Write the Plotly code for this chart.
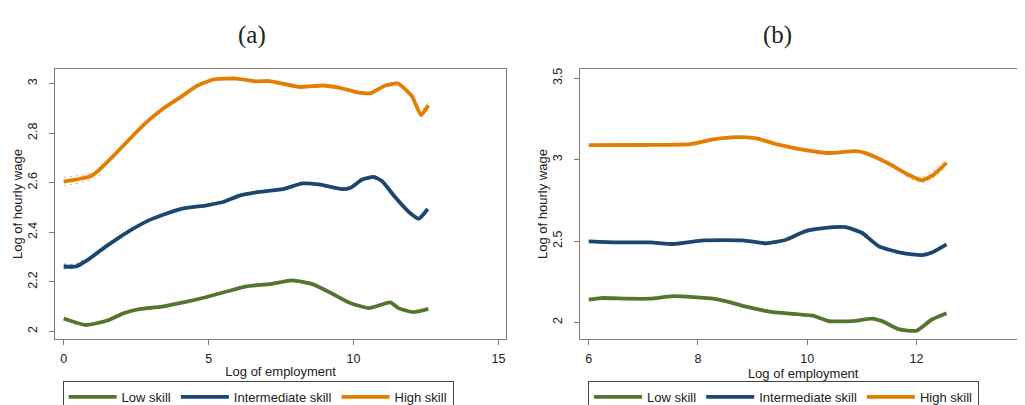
import plotly.graph_objects as go

W, H = 1025, 405

# ---------------- data: panel (a) ----------------
a_low_x = [0, 0.76, 1.51, 2.08, 2.65, 3.33, 4.25, 4.93, 5.62, 6.3, 7.1, 7.9, 8.58, 9.16, 9.84, 10.53, 11.27, 11.55, 12.07, 12.58]
a_low_y = [2.052, 2.026, 2.044, 2.074, 2.091, 2.099, 2.12, 2.139, 2.161, 2.182, 2.191, 2.206, 2.191, 2.159, 2.117, 2.094, 2.117, 2.094, 2.078, 2.091]

a_mid_x = [0, 0.42, 0.82, 1.51, 2.19, 2.99, 3.56, 4.13, 4.93, 5.5, 6.07, 6.64, 7.56, 8.24, 8.81, 9.61, 9.9, 10.3, 10.7, 10.98, 11.44, 11.9, 12.25, 12.56]
a_mid_y = [2.262, 2.262, 2.288, 2.347, 2.40, 2.451, 2.476, 2.496, 2.509, 2.522, 2.548, 2.561, 2.574, 2.597, 2.593, 2.574, 2.58, 2.613, 2.623, 2.607, 2.541, 2.483, 2.455, 2.494]

a_high_x = [0, 0.93, 1.16, 1.73, 2.82, 3.45, 4.02, 4.59, 5.16, 5.96, 6.64, 7.1, 8.13, 8.93, 9.5, 10.18, 10.58, 11.1, 11.53, 12.01, 12.33, 12.58]
a_high_y = [2.604, 2.626, 2.645, 2.71, 2.84, 2.90, 2.944, 2.99, 3.016, 3.02, 3.009, 3.01, 2.986, 2.992, 2.983, 2.963, 2.961, 2.992, 3.0, 2.95, 2.873, 2.912]

# confidence bands (visible only where wider than the line)
a_high_ci_x = [0, 0.5, 1.0, 1.3, None, 12.0, 12.2, 12.33, 12.45, 12.6]
a_high_lo = [2.588, 2.598, 2.615, 2.635, None, 2.942, 2.89, 2.862, 2.878, 2.9]
a_high_hi = [2.622, 2.628, 2.638, 2.655, None, 2.958, 2.905, 2.885, 2.905, 2.925]
a_mid_ci_x = [0, 0.4, 0.8]
a_mid_lo = [2.252, 2.255, 2.28]
a_mid_hi = [2.272, 2.27, 2.296]

# ---------------- data: panel (b) ----------------
b_low_x = [6, 6.22, 6.7, 7.13, 7.55, 8.28, 8.52, 8.88, 9.37, 10.1, 10.22, 10.4, 10.82, 11.19, 11.37, 11.67, 12.0, 12.28, 12.55]
b_low_y = [2.14, 2.15, 2.146, 2.146, 2.162, 2.146, 2.13, 2.097, 2.063, 2.042, 2.028, 2.008, 2.008, 2.024, 2.008, 1.959, 1.949, 2.018, 2.057]

b_mid_x = [6, 6.52, 7.13, 7.55, 8.1, 8.82, 9.25, 9.61, 9.97, 10.34, 10.7, 11.0, 11.31, 11.73, 12.1, 12.28, 12.55]
b_mid_y = [2.498, 2.492, 2.492, 2.482, 2.504, 2.504, 2.486, 2.508, 2.561, 2.581, 2.585, 2.551, 2.468, 2.427, 2.413, 2.429, 2.48]

b_high_x = [6, 7.0, 7.85, 8.28, 8.7, 9.07, 9.49, 9.97, 10.4, 10.88, 11.07, 11.49, 11.85, 12.1, 12.31, 12.55]
b_high_y = [3.089, 3.09, 3.095, 3.124, 3.138, 3.13, 3.091, 3.059, 3.041, 3.052, 3.04, 2.976, 2.907, 2.874, 2.907, 2.98]

b_high_ci_x = [11.8, 12.0, 12.1, 12.3, 12.55]
b_high_lo = [2.9, 2.866, 2.856, 2.886, 2.955]
b_high_hi = [2.925, 2.893, 2.89, 2.928, 3.005]

# ---------------- ticks / labels ----------------
a_xticks = [0, 5, 10, 15]
a_yticks = [2, 2.2, 2.4, 2.6, 2.8, 3]
a_yticktext = ["2", "2.2", "2.4", "2.6", "2.8", "3"]
b_xticks = [6, 8, 10, 12, 14]
b_yticks = [2, 2.5, 3, 3.5]
b_yticktext = ["2", "2.5", "3", "3.5"]

series_names = ["Low skill", "Intermediate skill", "High skill"]
colors = ["#55752f", "#1a476f", "#e37e00"]
ci_colors = ["rgba(85,117,47,0.5)", "rgba(26,71,111,0.5)", "rgba(227,126,0,0.55)"]
panel_titles = ["(a)", "(b)"]
x_title = "Log of employment"
y_title = "Log of hourly wage"

FONT = "Arial, Liberation Sans, sans-serif"
LW = 3.8

fig = go.Figure()

def add_ci(x, lo, hi, color, xa, ya):
    for arr in (lo, hi):
        fig.add_trace(go.Scatter(x=x, y=arr, mode="lines", xaxis=xa, yaxis=ya,
                                 line=dict(color=color, width=1, dash="dot"),
                                 showlegend=False, hoverinfo="skip", connectgaps=False))

add_ci(a_high_ci_x, a_high_lo, a_high_hi, ci_colors[2], "x", "y")
add_ci(a_mid_ci_x, a_mid_lo, a_mid_hi, ci_colors[1], "x", "y")
add_ci(b_high_ci_x, b_high_lo, b_high_hi, ci_colors[2], "x2", "y2")

for (xs, ys), name, col in zip([(a_low_x, a_low_y), (a_mid_x, a_mid_y), (a_high_x, a_high_y)], series_names, colors):
    fig.add_trace(go.Scatter(x=xs, y=ys, mode="lines", name=name, xaxis="x", yaxis="y",
                             line=dict(color=col, width=LW, shape="spline", smoothing=0.5),
                             legend="legend"))
for (xs, ys), name, col in zip([(b_low_x, b_low_y), (b_mid_x, b_mid_y), (b_high_x, b_high_y)], series_names, colors):
    fig.add_trace(go.Scatter(x=xs, y=ys, mode="lines", name=name, xaxis="x2", yaxis="y2",
                             line=dict(color=col, width=LW, shape="spline", smoothing=0.5),
                             legend="legend2"))

FRAME = "#7a7a7a"
axis_common = dict(showline=True, mirror=True, linecolor=FRAME, linewidth=1,
                   ticks="outside", ticklen=5, tickcolor=FRAME, tickwidth=1,
                   showgrid=False, zeroline=False,
                   tickfont=dict(family=FONT, size=12.5, color="#222"))

y0 = (H - 341.7) / H
y1 = (H - 62.3) / H

legend_common = dict(orientation="h", xanchor="left", y=(H - 385.7) / H, yanchor="top",
                     bordercolor="#444", borderwidth=1, bgcolor="white", itemwidth=48,
                     font=dict(family=FONT, size=13, color="#222"), traceorder="normal")

fig.update_layout(
    width=W, height=H,
    margin=dict(l=0, r=0, t=0, b=0),
    paper_bgcolor="white", plot_bgcolor="white",
    font=dict(family=FONT, size=13, color="#222"),
    xaxis=dict(domain=[47.3 / W, 501.7 / W], range=[-0.3, 15.27], tickvals=a_xticks,
               ticklabelstandoff=3,
               title=dict(text=x_title, font=dict(family=FONT, size=13), standoff=2),
               anchor="y", **axis_common),
    yaxis=dict(domain=[y0, y1], range=[1.970, 3.058], tickvals=a_yticks, ticktext=a_yticktext,
               tickangle=-90, ticklabelstandoff=7,
               title=dict(text=y_title, font=dict(family=FONT, size=13), standoff=0),
               anchor="x", **axis_common),
    xaxis2=dict(domain=[576.3 / W, 1.0], range=[5.847, 14.005], tickvals=b_xticks,
                ticklabelstandoff=3, ticklabeloverflow="allow",
                title=dict(text=x_title, font=dict(family=FONT, size=13), standoff=2),
                anchor="y2", **axis_common),
    yaxis2=dict(domain=[y0, y1], range=[1.899, 3.556], tickvals=b_yticks, ticktext=b_yticktext,
                tickangle=-90, ticklabelstandoff=7,
                title=dict(text=y_title, font=dict(family=FONT, size=13), standoff=0),
                anchor="x2", **axis_common),
    legend=dict(x=55 / W, **legend_common),
    legend2=dict(x=584 / W, **legend_common),
    showlegend=True,
)

for txt, cx in zip(panel_titles, [246, 775]):
    fig.add_annotation(text=txt, x=cx / W, y=(H - 26.7) / H, xref="paper", yref="paper",
                       xanchor="center", yanchor="middle", showarrow=False,
                       font=dict(family="Liberation Serif, DejaVu Serif, serif", size=25, color="#222"))

fig.write_html("out.html")
